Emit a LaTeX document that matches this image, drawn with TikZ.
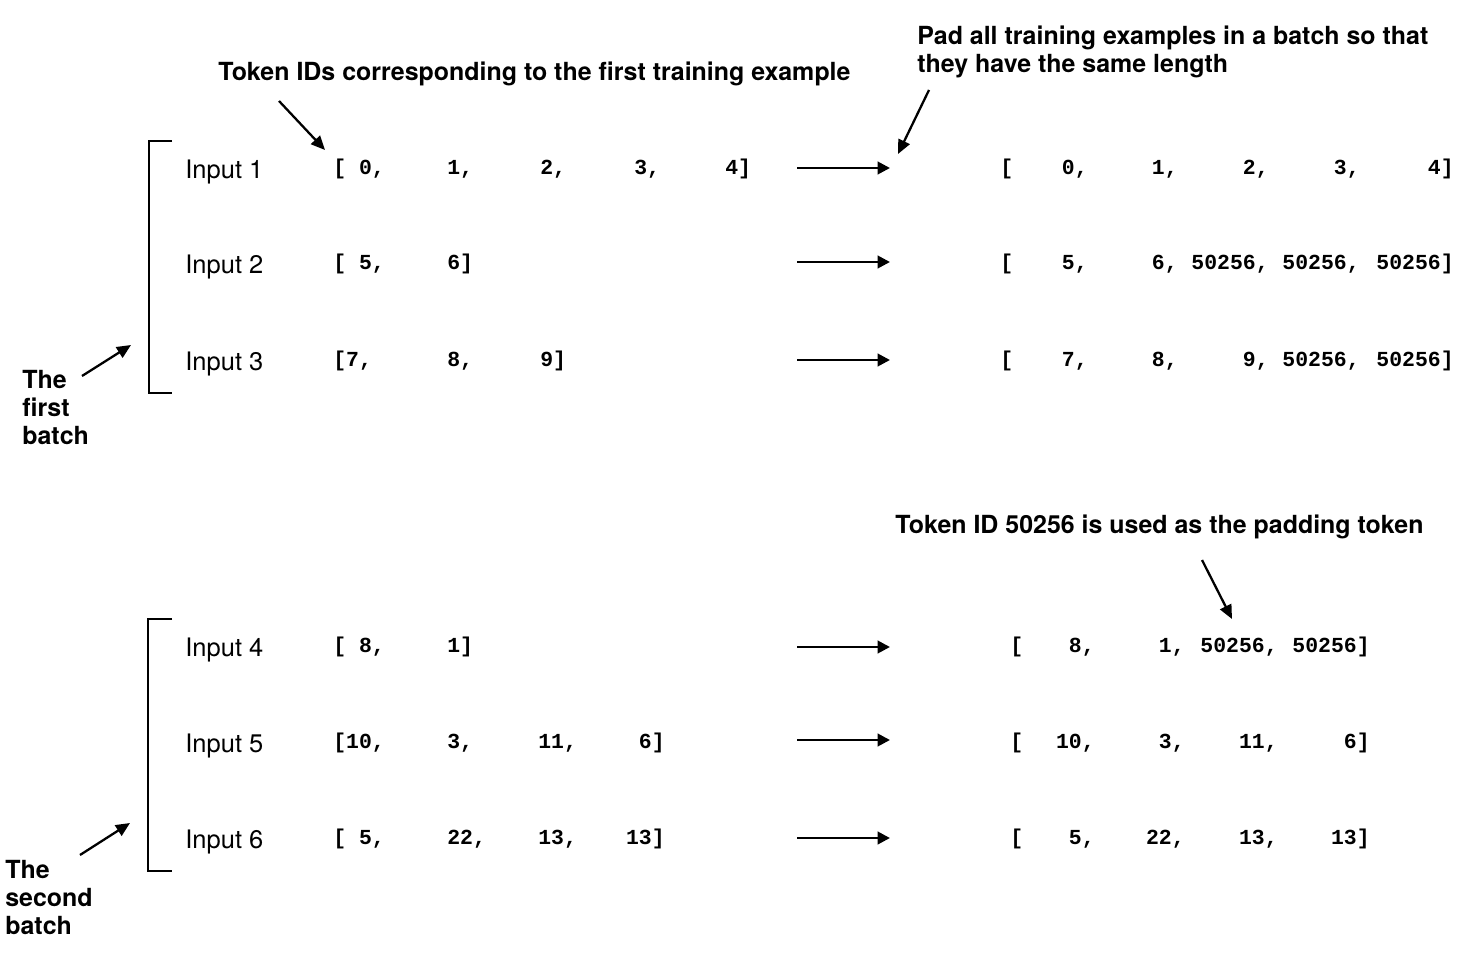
\documentclass[tikz,border=0pt]{standalone}
\usepackage{fontspec}
\setmainfont{TeX Gyre Heros}
\newfontfamily\tokmono{Liberation Mono}
\usetikzlibrary{arrows.meta,positioning}

\begin{document}
\begin{tikzpicture}[
  x=0.02cm, y=-0.02cm,
  >={Triangle[length=7pt,width=7pt]},
  inp/.style={font=\fontsize{14.5}{17}\selectfont,anchor=base west,inner sep=0pt},
  tokL/.style={font=\tokmono\bfseries\fontsize{12.2}{14}\selectfont,
               anchor=base west,inner sep=0pt},
  tokR/.style={font=\tokmono\bfseries\fontsize{12.2}{14}\selectfont,
               anchor=base east,inner sep=0pt},
  note/.style={font=\bfseries\fontsize{14.2}{15.8}\selectfont,
               align=left,inner sep=0pt},
  padarr/.style={->,line width=1.6pt},
  ptr/.style={-{Triangle[length=8pt,width=7pt]},line width=1.3pt},
  brk/.style={line width=1.5pt}
]
\useasboundingbox (0,0) rectangle (1477,956);

%% notes
\node[note,anchor=base west] (ntok) at (218,81)
  {Token IDs corresponding to the first training example};
\node[note,anchor=north west] (npad) at (917,26)
  {Pad all training examples in a batch so that\\they have the same length};
\node[note,anchor=base west] (nid) at (895,533)
  {Token ID 50256 is used as the padding token};
\node[note,anchor=north west] (nb1) at (22,370) {The\\first\\batch};
\node[note,anchor=north west] (nb2) at (5,860) {The\\second\\batch};

%% brackets
\draw[brk] (172,141) -- (149,141) -- (149,393) -- (172,393);
\draw[brk] (172,619) -- (148,619) -- (148,871) -- (172,871);

%% input labels
\node[inp] (in1) at (185,178.5) {Input 1};
\node[inp] (in2) at (185,274)   {Input 2};
\node[inp] (in3) at (185,370.5) {Input 3};
\node[inp] (in4) at (185,656.5) {Input 4};
\node[inp] (in5) at (185,752)   {Input 5};
\node[inp] (in6) at (185,848.5) {Input 6};

%% first batch, original token IDs
\node[tokL] (l1a) at (333,174.5) {[ 0,};
\node[tokL] (l1b) at (447,174.5) {1,};
\node[tokL] (l1c) at (540,174.5) {2,};
\node[tokL] (l1d) at (634,174.5) {3,};
\node[tokL] (l1e) at (725,174.5) {4]};
\node[tokL] (l2a) at (333,270) {[ 5,};
\node[tokL] (l2b) at (447,270) {6]};
\node[tokL] (l3a) at (333,366.5) {[7,};
\node[tokL] (l3b) at (447,366.5) {8,};
\node[tokL] (l3c) at (540,366.5) {9]};

%% second batch, original token IDs
\node[tokL] (l4a) at (333,652.5) {[ 8,};
\node[tokL] (l4b) at (447,652.5) {1]};
\node[tokL] (l5a) at (333,748) {[10,};
\node[tokL] (l5b) at (447,748) {3,};
\node[tokL] (l5c) at (538,748) {11,};
\node[tokR] (l5d) at (665,748) {6]};
\node[tokL] (l6a) at (333,844.5) {[ 5,};
\node[tokL] (l6b) at (447,844.5) {22,};
\node[tokL] (l6c) at (538,844.5) {13,};
\node[tokR] (l6d) at (665,844.5) {13]};

%% first batch, padded
\node[tokL] (r1o) at (1000,174.5) {[};
\node[tokR] (r1a) at (1088,174.5) {0,};
\node[tokR] (r1b) at (1178,174.5) {1,};
\node[tokR] (r1c) at (1269,174.5) {2,};
\node[tokR] (r1d) at (1360,174.5) {3,};
\node[tokR] (r1e) at (1454,174.5) {4]};
\node[tokL] (r2o) at (1000,270) {[};
\node[tokR] (r2a) at (1088,270) {5,};
\node[tokR] (r2b) at (1178,270) {6,};
\node[tokR] (r2c) at (1269,270) {50256,};
\node[tokR] (r2d) at (1360,270) {50256,};
\node[tokR] (r2e) at (1454,270) {50256]};
\node[tokL] (r3o) at (1000,366.5) {[};
\node[tokR] (r3a) at (1088,366.5) {7,};
\node[tokR] (r3b) at (1178,366.5) {8,};
\node[tokR] (r3c) at (1269,366.5) {9,};
\node[tokR] (r3d) at (1360,366.5) {50256,};
\node[tokR] (r3e) at (1454,366.5) {50256]};

%% second batch, padded
\node[tokL] (r4o) at (1010,652.5) {[};
\node[tokR] (r4a) at (1095,652.5) {8,};
\node[tokR] (r4b) at (1185,652.5) {1,};
\node[tokR] (r4c) at (1278,652.5) {50256,};
\node[tokR] (r4d) at (1370,652.5) {50256]};
\node[tokL] (r5o) at (1010,748) {[};
\node[tokR] (r5a) at (1095,748) {10,};
\node[tokR] (r5b) at (1185,748) {3,};
\node[tokR] (r5c) at (1278,748) {11,};
\node[tokR] (r5d) at (1370,748) {6]};
\node[tokL] (r6o) at (1010,844.5) {[};
\node[tokR] (r6a) at (1095,844.5) {5,};
\node[tokR] (r6b) at (1185,844.5) {22,};
\node[tokR] (r6c) at (1278,844.5) {13,};
\node[tokR] (r6d) at (1370,844.5) {13]};

%% padding arrows
\coordinate (a1s) at (797,168);  \coordinate (a1e) at (890,168);
\coordinate (a2s) at (797,262);  \coordinate (a2e) at (890,262);
\coordinate (a3s) at (797,360);  \coordinate (a3e) at (890,360);
\coordinate (a4s) at (797,647);  \coordinate (a4e) at (890,647);
\coordinate (a5s) at (797,740);  \coordinate (a5e) at (890,740);
\coordinate (a6s) at (797,838);  \coordinate (a6e) at (890,838);
\draw[padarr] (a1s) -- (a1e);
\draw[padarr] (a2s) -- (a2e);
\draw[padarr] (a3s) -- (a3e);
\draw[padarr] (a4s) -- (a4e);
\draw[padarr] (a5s) -- (a5e);
\draw[padarr] (a6s) -- (a6e);

%% pointers from the notes
\coordinate (p1s) at (279,101);  \coordinate (p1e) at (325,150);
\coordinate (p2s) at (929,90);   \coordinate (p2e) at (898,154);
\coordinate (p3s) at (1202,560); \coordinate (p3e) at (1232,619);
\coordinate (p4s) at (82,376);   \coordinate (p4e) at (131,345);
\coordinate (p5s) at (80,855);   \coordinate (p5e) at (130,823);
\draw[ptr] (p1s) -- (p1e);
\draw[ptr] (p2s) -- (p2e);
\draw[ptr] (p3s) -- (p3e);
\draw[ptr] (p4s) -- (p4e);
\draw[ptr] (p5s) -- (p5e);

\end{tikzpicture}
\end{document}
